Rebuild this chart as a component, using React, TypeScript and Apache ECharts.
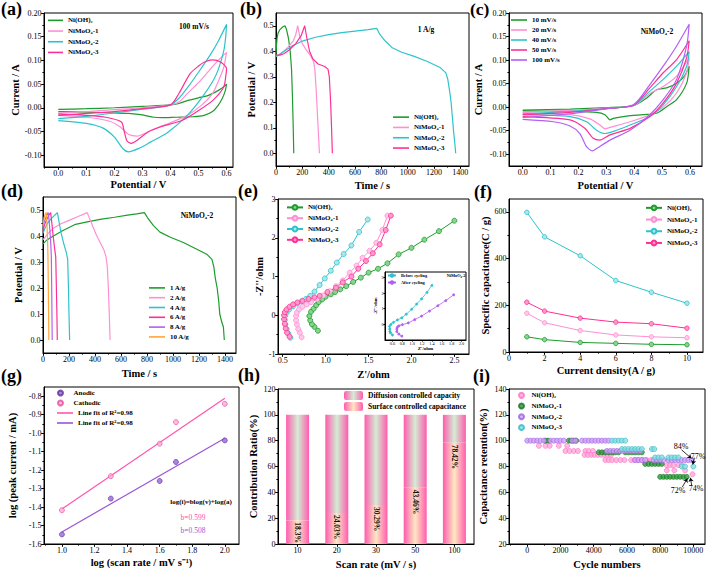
import React, { useEffect, useRef } from 'react';
import * as echarts from 'echarts';

const FONT = '"Liberation Serif", "Times New Roman", Times, serif';

const GREEN = '#1d9b2d';
const LPINK = '#ff8fd3';
const CYAN = '#2ec3cc';
const HPINK = '#ff3094';
const PURPLE = '#b25ff2';
const ORANGE = '#ffa53a';

// ---------- tick labels ----------
const tickCV_X = [0, 0.1, 0.2, 0.3, 0.4, 0.5, 0.6];
const tickCV_Y = [-0.1, -0.05, 0, 0.05, 0.1, 0.15, 0.2];
const tickGCD_X = [0, 200, 400, 600, 800, 1000, 1200, 1400];
const tickGCD_Y = [0, 0.1, 0.2, 0.3, 0.4, 0.5];
const tickE_X = [0.5, 1.0, 1.5, 2.0, 2.5];
const tickE_Y = [-1, 0, 1, 2, 3];
const tickIns_X = [0.6, 0.8, 1.0, 1.2, 1.4, 1.6, 1.8, 2.0];
const tickIns_Y = [0, 1, 2, 3];
const tickF_X = [0, 2, 4, 6, 8, 10];
const tickF_Y = [0, 200, 400, 600];
const tickG_X = [1.0, 1.2, 1.4, 1.6, 1.8, 2.0];
const tickG_Y = [-1.6, -1.5, -1.4, -1.3, -1.2, -1.1, -1.0, -0.9, -0.8];
const tickH_Y = [0, 20, 40, 60, 80, 100, 120];
const tickI_X = [0, 2000, 4000, 6000, 8000, 10000];
const tickI_Y = [20, 40, 60, 80, 100, 120, 140];

// ---------- names ----------
const sampleNames = ['Ni(OH)₂', 'NiMoO₄-1', 'NiMoO₄-2', 'NiMoO₄-3'];
const cRates = ['10 mV/s', '20 mV/s', '40 mV/s', '50 mV/s', '100 mV/s'];
const dDensities = ['1 A/g', '2 A/g', '4 A/g', '6 A/g', '8 A/g', '10 A/g'];

// ---------- (a) CV 100 mV/s : [V, A] ----------
const aNiOH2 = [[0, -0.0035], [0.1, -0.002], [0.2, 0.0], [0.3, 0.003], [0.4, 0.006], [0.43, 0.009], [0.46, 0.015], [0.5, 0.021], [0.53, 0.025], [0.56, 0.033], [0.58, 0.04], [0.6, 0.05], [0.595, 0.035], [0.585, 0.02], [0.57, 0.005], [0.55, -0.008], [0.52, -0.016], [0.48, -0.019], [0.42, -0.02], [0.37, -0.021], [0.34, -0.02], [0.3, -0.015], [0.25, -0.012], [0.2, -0.011], [0.1, -0.009], [0, -0.008]];
const aNiMoO41 = [[0, -0.011], [0.1, -0.008], [0.2, -0.004], [0.3, 0.0], [0.4, 0.006], [0.43, 0.012], [0.46, 0.03], [0.5, 0.053], [0.54, 0.08], [0.57, 0.1], [0.6, 0.117], [0.595, 0.1], [0.59, 0.085], [0.57, 0.055], [0.55, 0.03], [0.51, 0.005], [0.46, -0.016], [0.39, -0.034], [0.33, -0.048], [0.28, -0.06], [0.25, -0.056], [0.22, -0.04], [0.18, -0.028], [0.1, -0.02], [0, -0.016]];
const aNiMoO42 = [[0, -0.023], [0.1, -0.018], [0.2, -0.011], [0.3, -0.003], [0.4, 0.006], [0.43, 0.02], [0.46, 0.042], [0.5, 0.075], [0.54, 0.11], [0.57, 0.14], [0.6, 0.176], [0.597, 0.15], [0.59, 0.12], [0.57, 0.08], [0.55, 0.055], [0.51, 0.02], [0.46, -0.016], [0.39, -0.052], [0.33, -0.072], [0.29, -0.085], [0.25, -0.093], [0.23, -0.086], [0.2, -0.062], [0.16, -0.043], [0.1, -0.033], [0, -0.027]];
const aNiMoO43 = [[0, -0.016], [0.1, -0.012], [0.2, -0.008], [0.3, -0.002], [0.4, 0.006], [0.43, 0.03], [0.47, 0.072], [0.5, 0.088], [0.52, 0.096], [0.55, 0.101], [0.58, 0.096], [0.6, 0.083], [0.598, 0.07], [0.59, 0.044], [0.55, 0.015], [0.5, -0.006], [0.44, -0.027], [0.36, -0.041], [0.32, -0.051], [0.28, -0.069], [0.26, -0.075], [0.245, -0.07], [0.235, -0.05], [0.225, -0.03], [0.17, -0.02], [0.1, -0.016], [0, -0.013]];

// ---------- (b) GCD 1 A/g : [s, V] ----------
const bNiOH2 = [[0, 0.385], [3, 0.42], [8, 0.45], [15, 0.47], [30, 0.485], [50, 0.495], [68, 0.5], [80, 0.485], [95, 0.45], [108, 0.4], [118, 0.33], [125, 0.22], [130, 0.12], [135, 0.0]];
const bNiMoO41 = [[0, 0.38], [20, 0.385], [50, 0.395], [90, 0.415], [130, 0.44], [150, 0.465], [165, 0.5], [180, 0.46], [200, 0.43], [230, 0.405], [260, 0.385], [285, 0.36], [295, 0.33], [305, 0.25], [315, 0.15], [325, 0.05], [330, 0.0]];
const bNiMoO42 = [[0, 0.38], [20, 0.385], [60, 0.4], [120, 0.42], [200, 0.44], [300, 0.455], [400, 0.465], [500, 0.473], [600, 0.479], [700, 0.485], [765, 0.49], [790, 0.465], [830, 0.44], [880, 0.415], [950, 0.397], [1050, 0.38], [1150, 0.36], [1250, 0.335], [1290, 0.315], [1305, 0.29], [1320, 0.24], [1330, 0.2], [1340, 0.14], [1350, 0.08], [1358, 0.04], [1365, 0.0]];
const bNiMoO43 = [[0, 0.385], [30, 0.385], [60, 0.39], [100, 0.405], [150, 0.43], [190, 0.46], [218, 0.5], [235, 0.45], [255, 0.4], [280, 0.37], [320, 0.35], [370, 0.34], [395, 0.33], [405, 0.3], [415, 0.2], [422, 0.1], [428, 0.0]];

// ---------- (c) NiMoO4-2 CV at scan rates ----------
const c10 = [[0, -0.006], [0.17, -0.004], [0.3, -0.001], [0.397, 0.003], [0.444, 0.019], [0.48, 0.037], [0.516, 0.041], [0.552, 0.051], [0.58, 0.066], [0.597, 0.087], [0.588, 0.051], [0.552, 0.016], [0.516, 0.001], [0.48, -0.013], [0.432, -0.016], [0.373, -0.019], [0.325, -0.024], [0.313, -0.027], [0.295, -0.016], [0.265, -0.011], [0.17, -0.009], [0, -0.008]];
const c20 = [[0, -0.011], [0.17, -0.007], [0.3, -0.002], [0.397, 0.003], [0.456, 0.029], [0.504, 0.044], [0.552, 0.066], [0.597, 0.105], [0.588, 0.073], [0.552, 0.03], [0.504, 0.0], [0.456, -0.016], [0.385, -0.031], [0.313, -0.043], [0.295, -0.046], [0.277, -0.038], [0.241, -0.025], [0.17, -0.016], [0, -0.013]];
const c40 = [[0, -0.014], [0.17, -0.009], [0.3, -0.003], [0.397, 0.004], [0.456, 0.034], [0.504, 0.059], [0.552, 0.087], [0.597, 0.118], [0.588, 0.087], [0.552, 0.044], [0.504, 0.005], [0.456, -0.02], [0.385, -0.038], [0.337, -0.049], [0.295, -0.056], [0.265, -0.049], [0.229, -0.031], [0.17, -0.02], [0, -0.016]];
const c50 = [[0, -0.016], [0.17, -0.011], [0.3, -0.003], [0.397, 0.004], [0.456, 0.041], [0.504, 0.073], [0.552, 0.101], [0.597, 0.141], [0.588, 0.105], [0.552, 0.051], [0.504, 0.009], [0.456, -0.02], [0.385, -0.045], [0.313, -0.059], [0.277, -0.07], [0.253, -0.066], [0.223, -0.045], [0.17, -0.027], [0, -0.02]];
const c100 = [[0, -0.022], [0.17, -0.014], [0.29, -0.004], [0.397, 0.005], [0.456, 0.048], [0.504, 0.087], [0.552, 0.13], [0.597, 0.176], [0.588, 0.13], [0.552, 0.059], [0.504, 0.016], [0.456, -0.016], [0.385, -0.049], [0.313, -0.07], [0.265, -0.088], [0.25, -0.093], [0.229, -0.084], [0.205, -0.056], [0.17, -0.04], [0.11, -0.031], [0, -0.026]];

// ---------- (d) NiMoO4-2 GCD at current densities ----------
const d1 = [[0, 0.37], [30, 0.385], [80, 0.4], [150, 0.42], [250, 0.445], [350, 0.455], [450, 0.465], [550, 0.472], [650, 0.48], [720, 0.485], [780, 0.49], [805, 0.47], [850, 0.44], [900, 0.415], [980, 0.395], [1080, 0.375], [1180, 0.35], [1260, 0.33], [1300, 0.31], [1315, 0.28], [1325, 0.24], [1340, 0.2], [1352, 0.15], [1360, 0.1], [1375, 0.07], [1388, 0.05], [1395, 0.0]];
const d2 = [[0, 0.385], [40, 0.41], [80, 0.43], [130, 0.445], [200, 0.46], [270, 0.475], [340, 0.49], [360, 0.465], [385, 0.435], [410, 0.405], [440, 0.375], [470, 0.345], [485, 0.32], [495, 0.28], [503, 0.2], [510, 0.1], [516, 0.0]];
const d4 = [[0, 0.41], [15, 0.43], [35, 0.45], [60, 0.465], [90, 0.48], [111, 0.49], [125, 0.45], [140, 0.41], [160, 0.37], [180, 0.335], [190, 0.31], [196, 0.2], [200, 0.1], [205, 0.0]];
const d6 = [[0, 0.42], [10, 0.44], [25, 0.46], [45, 0.48], [59, 0.49], [68, 0.45], [78, 0.4], [90, 0.35], [98, 0.32], [103, 0.2], [107, 0.1], [110, 0.0]];
const d8 = [[0, 0.43], [10, 0.455], [25, 0.475], [40, 0.49], [47, 0.46], [53, 0.42], [60, 0.37], [64, 0.32], [67, 0.2], [69, 0.1], [71, 0.0]];
const d10 = [[0, 0.44], [8, 0.47], [18, 0.485], [25, 0.49], [30, 0.45], [35, 0.39], [38, 0.33], [41, 0.2], [43, 0.1], [45, 0.0]];

// ---------- (e) Nyquist [Z', -Z''] ----------
const eNiOH2 = [[0.91, -0.4], [0.87, -0.3], [0.84, -0.23], [0.82, -0.13], [0.81, -0.02], [0.83, 0.09], [0.86, 0.17], [0.89, 0.26], [0.92, 0.34], [0.96, 0.41], [1.0, 0.48], [1.06, 0.54], [1.11, 0.6], [1.17, 0.67], [1.24, 0.75], [1.32, 0.86], [1.41, 0.97], [1.5, 1.1], [1.61, 1.2], [1.72, 1.34], [1.85, 1.57], [2.0, 1.74], [2.15, 1.95], [2.32, 2.17], [2.5, 2.44]];
const eNiMoO41 = [[0.72, -0.57], [0.7, -0.45], [0.68, -0.35], [0.665, -0.24], [0.655, -0.13], [0.655, -0.02], [0.665, 0.07], [0.69, 0.15], [0.73, 0.22], [0.78, 0.28], [0.83, 0.34], [0.9, 0.42], [0.97, 0.51], [1.05, 0.62], [1.12, 0.75], [1.2, 0.9], [1.28, 1.1], [1.36, 1.28], [1.43, 1.48], [1.51, 1.66], [1.59, 1.87], [1.66, 2.2], [1.72, 2.57]];
const eNiMoO42 = [[0.59, -0.58], [0.565, -0.47], [0.545, -0.36], [0.53, -0.24], [0.525, -0.12], [0.53, -0.01], [0.545, 0.07], [0.575, 0.15], [0.62, 0.23], [0.67, 0.3], [0.72, 0.36], [0.77, 0.42], [0.82, 0.5], [0.87, 0.61], [0.93, 0.78], [0.99, 0.95], [1.06, 1.15], [1.13, 1.36], [1.21, 1.58], [1.3, 1.8], [1.39, 2.15], [1.49, 2.47]];
const eNiMoO43 = [[0.58, -0.55], [0.55, -0.45], [0.535, -0.34], [0.525, -0.22], [0.515, -0.1], [0.515, 0.0], [0.525, 0.08], [0.545, 0.15], [0.58, 0.22], [0.62, 0.28], [0.67, 0.33], [0.73, 0.37], [0.8, 0.42], [0.87, 0.46], [0.93, 0.5], [1.02, 0.6], [1.12, 0.71], [1.2, 0.85], [1.3, 1.0], [1.38, 1.2], [1.47, 1.4], [1.55, 1.6], [1.63, 1.83], [1.7, 2.2], [1.76, 2.57]];
const insNames = ['Before cycling', 'After cycling'];
const insBefore = [[0.6, -0.68], [0.56, -0.55], [0.55, -0.46], [0.545, -0.3], [0.54, -0.13], [0.57, 0.0], [0.62, 0.13], [0.7, 0.28], [0.79, 0.42], [0.88, 0.65], [0.99, 0.97], [1.09, 1.3], [1.19, 1.63], [1.3, 2.05], [1.4, 2.5]];
const insAfter = [[0.79, -0.75], [0.73, -0.62], [0.69, -0.46], [0.69, -0.3], [0.7, -0.18], [0.73, -0.1], [0.8, -0.02], [0.92, 0.09], [1.05, 0.3], [1.19, 0.53], [1.35, 0.85], [1.52, 1.19], [1.68, 1.52], [1.84, 1.89]];

// ---------- (f) specific capacitance ----------
const fDensity = [1, 2, 4, 6, 8, 10];
const fNiOH2 = [65, 53, 41, 37, 33, 31];
const fNiMoO41 = [166, 125, 92, 73, 65, 61];
const fNiMoO42 = [598, 493, 412, 306, 256, 209];
const fNiMoO43 = [213, 175, 145, 128, 121, 102];

// ---------- (g) b-value ----------
const gLogV = [1.0, 1.3, 1.6, 1.7, 2.0];
const gAnodic = [-1.548, -1.354, -1.259, -1.156, -1.039];
const gCathodic = [-1.417, -1.233, -1.057, -0.94, -0.841];
const gFitX = [1.0, 2.0];
const gFitCathodic = [-1.41, -0.811];
const gFitAnodic = [-1.535, -1.027];

// ---------- (h) contribution ----------
const hRates = ['10', '20', '30', '50', '100'];
const hSurface = [18.3, 24.03, 30.29, 43.46, 78.42];
const hDiffusion = [81.7, 75.97, 69.71, 56.54, 21.58];
const hLabels = ['18.3%', '24.03%', '30.29%', '43.46%', '78.42%'];

// ---------- (i) cycling [cycle, %] ----------
const iNiOH2 = [[700, 96], [1100, 96], [1350, 96], [1900, 96], [2400, 96], [2300, 92], [2550, 92], [2800, 92], [3050, 92], [3500, 92], [3700, 92], [3950, 92], [3450, 89], [3650, 89], [3850, 89], [4050, 89], [4250, 89], [4450, 89], [4650, 89], [4850, 89], [5050, 89], [4700, 85], [4900, 85], [5100, 85], [5350, 85], [5600, 85], [5850, 85], [6250, 85], [6450, 85], [6650, 85], [6900, 85], [7200, 85], [7450, 85], [7750, 85], [8400, 81], [8600, 81], [8800, 81], [9100, 81], [9300, 81], [8400, 77], [8850, 77], [9500, 77], [9950, 74]];
const iNiMoO41 = [[1100, 100], [1250, 100], [2500, 100], [2650, 100], [2800, 100], [2950, 100], [4300, 91], [4500, 91], [4700, 91], [4900, 91], [5100, 91], [5300, 91], [5500, 91], [5900, 91], [6100, 91], [6300, 91], [6500, 91], [6700, 91], [6900, 91], [7100, 82], [7300, 82], [7500, 82], [7700, 82], [7900, 82], [8100, 82], [8000, 72], [8200, 72], [8400, 72], [8600, 72], [8800, 72], [9000, 72], [9200, 72], [9400, 72], [9600, 72]];
const iNiMoO42 = [[0, 100], [200, 100], [400, 100], [600, 100], [800, 100], [1000, 100], [1400, 100], [1600, 100], [1800, 100], [2000, 100], [2200, 100], [2700, 100], [2900, 100], [3300, 100], [3500, 100], [3700, 100], [3900, 100], [4100, 100], [4300, 100], [4500, 100], [4700, 100], [4900, 100], [4800, 92], [5000, 92], [5200, 92], [5400, 92], [5600, 92], [5800, 92], [6000, 92], [6200, 92], [6400, 92], [6600, 92], [6800, 92], [6500, 85], [6700, 85], [6900, 85], [7100, 85], [7600, 85], [7800, 85], [8000, 85], [8200, 85], [8500, 85], [8700, 85], [8900, 85], [9100, 85], [9300, 85], [9500, 85], [9700, 85], [9900, 85]];
const iNiMoO43 = [[5100, 100], [5300, 100], [5500, 100], [5700, 100], [5900, 100], [5700, 93.5], [5900, 93.5], [6100, 93.5], [6300, 93.5], [6500, 93.5], [6700, 93.5], [6900, 93.5], [7500, 93.5], [7650, 93.5], [7700, 87], [7900, 87], [8100, 87], [8500, 87], [8700, 87], [8900, 87], [9100, 87], [9300, 80], [9500, 80], [10000, 80]];
const iArrows = [
  [[9280, 93], [9880, 86.3]],
  [[10060, 86.8], [9960, 81.6]],
  [[9330, 64], [9640, 70.8]],
  [[9900, 65.2], [9820, 71.3]],
];

// ---------- helpers ----------
type Fmt = (v: number) => string;
const f0: Fmt = (v) => String(Math.round(v));
const f1: Fmt = (v) => v.toFixed(1);
const f2: Fmt = (v) => v.toFixed(2);

type AxSpec = { grid: number; min: number; max: number; ticks: number[]; fmt: Fmt; name?: string; gap?: number; fs?: number; nfs?: number; tick?: number; margin?: number };

function valAxis(o: AxSpec) {
  return {
    type: 'value',
    gridIndex: o.grid,
    min: o.min,
    max: o.max,
    name: o.name ?? '',
    nameLocation: 'middle',
    nameGap: o.gap ?? 15,
    nameTextStyle: { fontFamily: FONT, fontSize: o.nfs ?? 10.5, fontWeight: 'bold', color: '#000' },
    axisLine: { show: true, onZero: false, lineStyle: { color: '#000', width: 1 } },
    axisTick: { show: true, length: o.tick ?? 2.8, customValues: o.ticks, lineStyle: { color: '#000', width: 1 } },
    axisLabel: { show: true, customValues: o.ticks, formatter: o.fmt, fontFamily: FONT, fontSize: o.fs ?? 8, color: '#000', margin: o.margin ?? 2.5 },
    splitLine: { show: false },
  };
}

// secondary axis that only carries the short minor ticks halfway between the major ones
function minorAxis(o: AxSpec, pos: 'bottom' | 'left') {
  const t = o.ticks;
  const step = t[1] - t[0];
  const minors: number[] = [];
  for (let i = -1; i < t.length; i++) {
    const v = t[0] + (i + 0.5) * step;
    if (v > o.min && v < o.max) minors.push(v);
  }
  return {
    type: 'value', gridIndex: o.grid, min: o.min, max: o.max, position: pos, offset: 0,
    axisLine: { show: false, onZero: false },
    axisTick: { show: true, length: 1.6, customValues: minors, lineStyle: { color: '#000', width: 1 } },
    axisLabel: { show: false },
    splitLine: { show: false },
  };
}

function lineS(name: string, data: number[][], color: string, idx: number, smooth: number | boolean = false) {
  return { type: 'line', name, data, xAxisIndex: idx, yAxisIndex: idx, symbol: 'none', smooth, lineStyle: { color, width: 1.2 }, itemStyle: { color }, z: 3 };
}

function markS(name: string, data: number[][], color: string, fill: string, idx: number, size: number, lw = 1) {
  return { type: 'line', name, data, xAxisIndex: idx, yAxisIndex: idx, symbol: 'circle', symbolSize: size, showSymbol: true, lineStyle: { color, width: lw }, itemStyle: { color: fill, borderColor: color, borderWidth: 0.8 }, z: 3 };
}

function scatS(name: string, data: number[][], fill: string, border: string, idx: number, size: number) {
  return { type: 'scatter', name, data, xAxisIndex: idx, yAxisIndex: idx, symbol: 'circle', symbolSize: size, itemStyle: { color: fill, borderColor: border, borderWidth: 0.8 }, z: 3 };
}

function legendOf(names: string[], left: number, top: number, pitch: number, iw = 16, ih = 8, fs = 7, icon?: string) {
  const lg: any = {
    show: true, data: names, left, top, orient: 'vertical', itemWidth: iw, itemHeight: ih, itemGap: 0, padding: 0,
    selectedMode: false,
    textStyle: { fontFamily: FONT, fontSize: fs, fontWeight: 'bold', color: '#000', lineHeight: pitch },
    formatter: (n: string) => n.split('#')[0],
  };
  if (icon) lg.icon = icon;
  return lg;
}

function txt(text: string, x: number, y: number, size: number, o: { fill?: string; weight?: string; align?: string; va?: string } = {}) {
  return {
    type: 'text', x, y, z: 100,
    style: {
      text, fill: o.fill ?? '#000', font: `${o.weight ?? 'bold'} ${size}px ${FONT}`,
      textAlign: o.align ?? 'left', textVerticalAlign: o.va ?? 'top', align: o.align ?? 'left', verticalAlign: o.va ?? 'top',
    },
  };
}

const zip = (xs: number[], ys: number[]) => xs.map((x, i) => [x, ys[i]]);
const sfx = (names: string[], s: string) => names.map((n) => `${n}#${s}`);

function buildOption() {
  const grids = [
    { left: 44, top: 13, width: 189, height: 154 },   // a
    { left: 276, top: 13, width: 193, height: 153 },  // b
    { left: 509, top: 13, width: 193, height: 153 },  // c
    { left: 43, top: 197, width: 193, height: 156 },  // d
    { left: 278, top: 199, width: 191, height: 155 }, // e
    { left: 509, top: 199, width: 194, height: 153 }, // f
    { left: 44, top: 387, width: 195, height: 157 },  // g
    { left: 278, top: 389, width: 196, height: 155 }, // h
    { left: 509, top: 389, width: 196, height: 155 }, // i
    { left: 385, top: 272, width: 81, height: 68 },   // inset of e
  ].map((g) => ({ ...g, show: true, borderColor: '#000', borderWidth: 1, backgroundColor: 'rgba(0,0,0,0)' }));

  const xs: AxSpec[] = [
    { grid: 0, min: -0.051, max: 0.623, ticks: tickCV_X, fmt: f1, name: 'Potential / V', gap: 12 },
    { grid: 1, min: 0, max: 1466, ticks: tickGCD_X, fmt: f0, name: 'Time / s', gap: 14 },
    { grid: 2, min: -0.049, max: 0.643, ticks: tickCV_X, fmt: f1, name: 'Potential / V', gap: 14 },
    { grid: 3, min: 0, max: 1485, ticks: tickGCD_X, fmt: f0, name: 'Time / s', gap: 15 },
    { grid: 4, min: 0.445, max: 2.67, ticks: tickE_X, fmt: f1, name: "Z'/ohm", gap: 15 },
    { grid: 5, min: 0, max: 10.9, ticks: tickF_X, fmt: f0, name: 'Current density(A / g)', gap: 13 },
    { grid: 6, min: 0.89, max: 2.087, ticks: tickG_X, fmt: f1, name: 'log (scan rate / mV s⁻¹)', gap: 13 },
  ];
  const xI: AxSpec = { grid: 8, min: -1100, max: 10700, ticks: tickI_X, fmt: f0, name: 'Cycle numbers', gap: 15 };
  const xIns: AxSpec = { grid: 9, min: 0.45, max: 2.09, ticks: tickIns_X, fmt: f1, name: "Z'/ohm", gap: 6, fs: 4.2, nfs: 5, tick: 1.5, margin: 1.5 };

  const ys: AxSpec[] = [
    { grid: 0, min: -0.125, max: 0.2, ticks: tickCV_Y, fmt: f2, name: 'Current / A', gap: 20 },
    { grid: 1, min: -0.05, max: 0.55, ticks: tickGCD_Y, fmt: f1, name: 'Potential / V', gap: 19 },
    { grid: 2, min: -0.125, max: 0.2, ticks: tickCV_Y, fmt: f2, name: 'Current / A', gap: 25 },
    { grid: 3, min: -0.05, max: 0.55, ticks: tickGCD_Y, fmt: f1, name: 'Potential / V', gap: 19 },
    { grid: 4, min: -1, max: 3, ticks: tickE_Y, fmt: f0, name: "-Z''/ohm", gap: 13 },
    { grid: 5, min: 0, max: 655, ticks: tickF_Y, fmt: f0, name: 'Specific capacitance(C / g)', gap: 18 },
    { grid: 6, min: -1.6, max: -0.75, ticks: tickG_Y, fmt: f1, name: 'log (peak current / mA)', gap: 26 },
    { grid: 7, min: 0, max: 120, ticks: tickH_Y, fmt: f0, name: 'Contribution Ratio(%)', gap: 19 },
    { grid: 8, min: 20, max: 140, ticks: tickI_Y, fmt: f0, name: 'Capacitance retention(%)', gap: 20 },
  ];
  const yIns: AxSpec = { grid: 9, min: -1, max: 3.35, ticks: tickIns_Y, fmt: f0, name: "-Z''/ohm", gap: 5, fs: 4.2, nfs: 4.6, tick: 1.5, margin: 1.5 };

  const xAxis: any[] = [
    ...xs.map(valAxis),
    {
      type: 'category', gridIndex: 7, data: hRates, name: 'Scan rate (mV / s)', nameLocation: 'middle', nameGap: 15,
      nameTextStyle: { fontFamily: FONT, fontSize: 10.5, fontWeight: 'bold', color: '#000' },
      axisLine: { show: true, lineStyle: { color: '#000', width: 1 } },
      axisTick: { show: true, alignWithLabel: true, length: 2.8, lineStyle: { color: '#000' } },
      axisLabel: { fontFamily: FONT, fontSize: 8, color: '#000', margin: 2.5 },
      splitLine: { show: false },
    },
    valAxis(xI),
    valAxis(xIns),
    ...xs.map((a) => minorAxis(a, 'bottom')),
    minorAxis(xI, 'bottom'),
  ];

  const yAxis: any[] = [
    ...ys.map(valAxis),
    valAxis(yIns),
    ...ys.map((a) => minorAxis(a, 'left')),
  ];

  const aN = sfx(sampleNames, 'a');
  const bN = sfx(sampleNames, 'b');
  const cN = sfx(cRates, 'c');
  const dN = sfx(dDensities, 'd');
  const eN = sfx(sampleNames, 'e');
  const fN = sfx(sampleNames, 'f');
  const gN = ['Anodic#g', 'Cathodic#g', 'Line fit of R²=0.98#g1', 'Line fit of R²=0.98#g2'];
  const hN = ['Diffusion controlled capacity#h', 'Surface controlled capacitance#h'];
  const iN = sfx(sampleNames, 'i');
  const insN = sfx(insNames, 'ins');

  const gradDiff = new echarts.graphic.LinearGradient(0, 0, 1, 0, [
    { offset: 0, color: '#ff5cae' }, { offset: 0.5, color: '#d3edd4' }, { offset: 1, color: '#ff5cae' },
  ]);
  const gradSurf = new echarts.graphic.LinearGradient(0, 0, 1, 0, [
    { offset: 0, color: '#ff5cae' }, { offset: 0.5, color: '#ffe8c2' }, { offset: 1, color: '#ff5cae' },
  ]);

  const series: any[] = [
    // (a)
    lineS(aN[0], aNiOH2, GREEN, 0, 0.25),
    lineS(aN[1], aNiMoO41, LPINK, 0, 0.25),
    lineS(aN[2], aNiMoO42, CYAN, 0, 0.25),
    lineS(aN[3], aNiMoO43, HPINK, 0, 0.25),
    // (b)
    lineS(bN[0], bNiOH2, GREEN, 1),
    lineS(bN[1], bNiMoO41, LPINK, 1),
    lineS(bN[2], bNiMoO42, CYAN, 1),
    lineS(bN[3], bNiMoO43, HPINK, 1),
    // (c)
    lineS(cN[0], c10, GREEN, 2, 0.25),
    lineS(cN[1], c20, LPINK, 2, 0.25),
    lineS(cN[2], c40, CYAN, 2, 0.25),
    lineS(cN[3], c50, HPINK, 2, 0.25),
    lineS(cN[4], c100, PURPLE, 2, 0.25),
    // (d)
    lineS(dN[0], d1, GREEN, 3),
    lineS(dN[1], d2, LPINK, 3),
    lineS(dN[2], d4, CYAN, 3),
    lineS(dN[3], d6, HPINK, 3),
    lineS(dN[4], d8, PURPLE, 3),
    lineS(dN[5], d10, ORANGE, 3),
    // (e)
    markS(eN[0], eNiOH2, GREEN, '#86d690', 4, 5),
    markS(eN[1], eNiMoO41, LPINK, '#ffc9ea', 4, 5),
    markS(eN[2], eNiMoO42, CYAN, '#a6e9ed', 4, 5),
    markS(eN[3], eNiMoO43, HPINK, '#ff9acb', 4, 5),
    markS(insN[0], insBefore, CYAN, CYAN, 9, 2, 0.8),
    markS(insN[1], insAfter, PURPLE, PURPLE, 9, 2, 0.8),
    // (f)
    markS(fN[0], zip(fDensity, fNiOH2), GREEN, '#86d690', 5, 4.5),
    markS(fN[1], zip(fDensity, fNiMoO41), LPINK, '#ffc9ea', 5, 4.5),
    markS(fN[2], zip(fDensity, fNiMoO42), CYAN, '#a6e9ed', 5, 4.5),
    markS(fN[3], zip(fDensity, fNiMoO43), HPINK, '#ff9acb', 5, 4.5),
    // (g)
    scatS(gN[0], zip(gLogV, gAnodic), '#9867d8', '#5b2e9c', 6, 5),
    scatS(gN[1], zip(gLogV, gCathodic), '#ffa6d8', '#e8489e', 6, 5),
    lineS(gN[2], zip(gFitX, gFitCathodic), '#ff55b0', 6),
    lineS(gN[3], zip(gFitX, gFitAnodic), '#9a55d6', 6),
    // (h)
    {
      type: 'bar', name: hN[1], data: hSurface, xAxisIndex: 7, yAxisIndex: 7, stack: 'h', barWidth: 23,
      itemStyle: { color: gradSurf },
      label: {
        show: true, position: 'insideTop', rotate: -90, align: 'left', verticalAlign: 'middle', distance: 2,
        formatter: (p: any) => hLabels[p.dataIndex], fontFamily: FONT, fontSize: 7.5, fontWeight: 'bold', color: '#111',
      },
    },
    { type: 'bar', name: hN[0], data: hDiffusion, xAxisIndex: 7, yAxisIndex: 7, stack: 'h', barWidth: 23, itemStyle: { color: gradDiff } },
    // (i)
    scatS(iN[0], iNiOH2, '#ffa9dc', '#ff70c2', 8, 5),
    scatS(iN[1], iNiMoO41, '#2e9e3c', '#166f20', 8, 5),
    scatS(iN[2], iNiMoO42, '#cfa3f7', '#9c5de2', 8, 5),
    {
      ...scatS(iN[3], iNiMoO43, '#86dfe5', '#37b6c0', 8, 5),
      markLine: {
        silent: true, symbol: ['none', 'arrow'], symbolSize: 4, animation: false,
        lineStyle: { color: '#000', width: 0.8, type: 'solid' }, label: { show: false },
        data: iArrows.map(([p, q]) => [{ coord: p }, { coord: q }]),
      },
    },
  ];

  const legend: any[] = [
    legendOf(aN, 48, 15, 10.7, 15, 1.6, 7, 'rect'),
    legendOf(bN, 393, 112, 10.3, 16, 1.6, 7, 'rect'),
    legendOf(cN, 511, 15, 10, 16, 1.6, 7, 'rect'),
    legendOf(dN, 149, 283, 9.8, 16, 1.6, 7, 'rect'),
    legendOf(eN, 286, 202, 10.8, 16, 6, 7),
    legendOf(fN, 645, 202, 11.7, 16, 6, 7),
    legendOf(gN.slice(0, 2), 57, 388, 10, 16, 5, 7, 'circle'),
    legendOf(gN.slice(2), 57, 408, 10, 16, 1.6, 7, 'rect'),
    legendOf(hN, 344, 390, 11, 19, 9, 7.5),
    legendOf(iN, 518, 390, 10.7, 10, 5, 7, 'circle'),
    legendOf(insN, 387, 272, 7, 8, 3, 4.3),
  ];

  const graphic: any[] = [
    txt('(a)', 1, 0, 18), txt('(b)', 240, 0, 18), txt('(c)', 470, 0, 17.5),
    txt('(d)', 1, 182, 18), txt('(e)', 238, 182, 18), txt('(f)', 474, 183, 18),
    txt('(g)', 1, 367, 18), txt('(h)', 238, 366, 18), txt('(i)', 473, 367, 18),
    txt('100 mV/s', 194, 26, 7.5, { align: 'center', va: 'middle' }),
    txt('1 A/g', 426, 29, 7.5, { align: 'center', va: 'middle' }),
    txt('NiMoO₄-2', 657, 31, 7.5, { align: 'center', va: 'middle' }),
    txt('NiMoO₄-2', 197, 215, 7.5, { align: 'center', va: 'middle' }),
    txt('NiMoO₄-2', 456, 275, 4.3, { align: 'center', va: 'middle' }),
    txt('log(i)=blog(v)+log(a)', 201, 502, 7, { align: 'center', va: 'middle' }),
    txt('b=0.599', 193, 517, 7.5, { align: 'center', va: 'middle', fill: '#ff4fae', weight: 'normal' }),
    txt('b=0.508', 193, 530, 7.5, { align: 'center', va: 'middle', fill: '#9a5ad6', weight: 'normal' }),
    txt('84%', 681, 446, 8, { align: 'center', va: 'middle', weight: 'normal' }),
    txt('77%', 698, 456, 8, { align: 'center', va: 'middle', weight: 'normal' }),
    txt('72%', 678, 490, 8, { align: 'center', va: 'middle', weight: 'normal' }),
    txt('74%', 696, 488, 8, { align: 'center', va: 'middle', weight: 'normal' }),
  ];

  return {
    animation: false,
    backgroundColor: '#fff',
    textStyle: { fontFamily: FONT },
    grid: grids,
    xAxis,
    yAxis,
    legend,
    series,
    graphic,
  };
}

export default function App() {
  const ref = useRef<HTMLDivElement>(null);
  useEffect(() => {
    if (!ref.current) return;
    const chart = echarts.init(ref.current, null, { renderer: 'svg' });
    chart.setOption(buildOption() as any);
    return () => chart.dispose();
  }, []);
  return <div ref={ref} style={{ position: 'absolute', left: 0, top: 0, width: 709, height: 573, background: '#fff' }} />;
}
